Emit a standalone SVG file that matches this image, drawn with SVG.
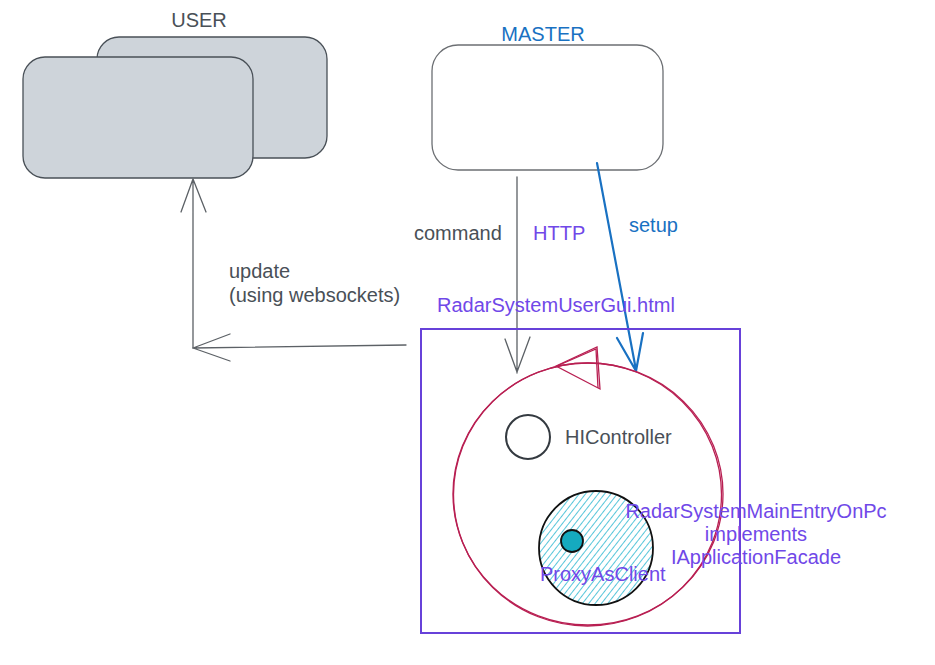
<svg xmlns="http://www.w3.org/2000/svg" width="935" height="665" viewBox="0 0 935 665">
<style>
text{font-family:"Liberation Sans",Arial,sans-serif;font-size:20px}
.gray{fill:#495057}
.blue{fill:#1971c2}
.purple{fill:#7048e8}
.conn{fill:none;stroke:#5c6166;stroke-width:1.3;stroke-linecap:round;stroke-linejoin:round}
.setup{fill:none;stroke:#1971c2;stroke-width:2.2;stroke-linecap:round;stroke-linejoin:round}
.red{fill:none;stroke:#b81f52;stroke-width:1.3}
</style>
<defs>
<pattern id="hatch" patternUnits="userSpaceOnUse" width="5" height="5" patternTransform="rotate(38)">
<line x1="0" y1="0" x2="0" y2="5" stroke="#4fc3d8" stroke-width="1.9"/>
</pattern>
</defs>
<rect width="935" height="665" fill="#fff"/>
<g id="user">
<rect x="97" y="37" width="230" height="121" rx="22" fill="#ced4da" stroke="#495057" stroke-width="1.3"/>
<rect x="23" y="57" width="230" height="121" rx="22" fill="#ced4da" stroke="#495057" stroke-width="1.3"/>
<text x="199" y="27" text-anchor="middle" class="gray">USER</text>
</g>
<g id="master">
<rect x="432" y="45" width="231" height="125" rx="26" fill="#fff" stroke="#6c6f73" stroke-width="1.3"/>
<text x="543" y="41" text-anchor="middle" class="blue">MASTER</text>
</g>
<g id="connectors">
<path class="conn" d="M517 177 L517 373 M505 339 L517 372 L530 337"/>
<path class="setup" d="M597 163 L636 370 M617 338 L636 371 L643 333"/>
<path class="conn" d="M406 345 L193 348 M230 334 L193 348 L230 361"/>
<path class="conn" d="M193 348 L193 179 M181 212 L193 179 L206 212"/>
</g>
<g id="labels">
<text x="414" y="240" class="gray">command</text>
<text x="533" y="240" class="purple">HTTP</text>
<text x="629" y="232" class="blue">setup</text>
<text x="229" y="278" class="gray">update</text>
<text x="229" y="302" class="gray">(using websockets)</text>
<text x="437" y="312" class="purple">RadarSystemUserGui.html</text>
</g>
<g id="gui">
<rect x="421" y="329" width="319" height="304" fill="none" stroke="#6741d9" stroke-width="2"/>
</g>
<g id="loop">
<ellipse cx="588" cy="494" rx="135" ry="131" class="red"/>
<ellipse cx="587.5" cy="494.5" rx="134" ry="131.5" class="red"/>
<path class="red" d="M556 366 L597 347 L600 389 Z"/>
<path class="red" d="M557 366 L596 349 L598 388"/>
</g>
<g id="hicontroller">
<circle cx="528" cy="437" r="22" fill="none" stroke="#343a40" stroke-width="2"/>
<text x="565" y="444" class="gray">HIController</text>
</g>
<g id="proxy">
<circle cx="596" cy="548" r="57" fill="url(#hatch)"/>
<circle cx="596" cy="548" r="57" fill="none" stroke="#111" stroke-width="1.8"/>
<circle cx="572" cy="541" r="11" fill="#15aabf" stroke="#111" stroke-width="1.8"/>
<text x="540" y="581" class="purple">ProxyAsClient</text>
</g>
<g id="mainentry">
<text x="756" y="518" text-anchor="middle" class="purple">RadarSystemMainEntryOnPc</text>
<text x="756" y="541" text-anchor="middle" class="purple">implements</text>
<text x="756" y="564" text-anchor="middle" class="purple">IApplicationFacade</text>
</g>
</svg>
